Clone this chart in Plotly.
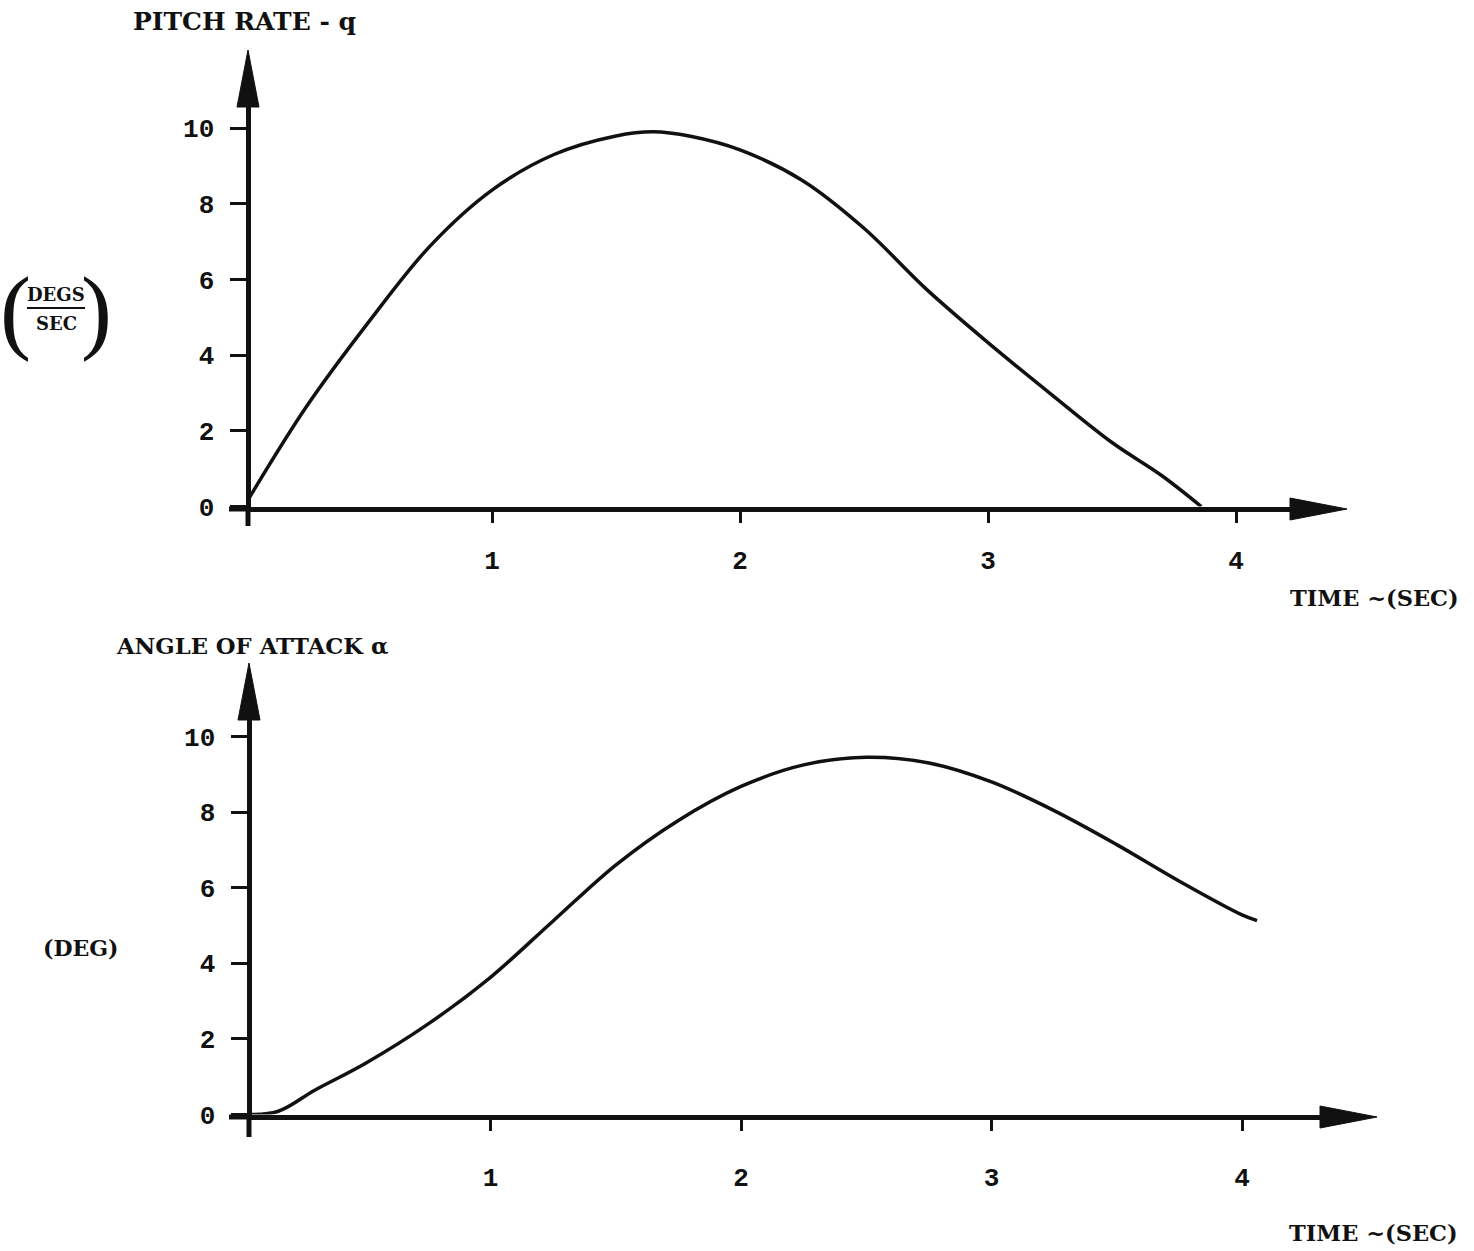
import plotly.graph_objects as go

# ---------------- data ----------------
q_time = [0, 0.25, 0.5, 0.75, 1.0, 1.25, 1.5, 1.65, 1.8, 2.0, 2.25, 2.5,
          2.75, 3.0, 3.25, 3.5, 3.7, 3.86]
q_rate = [0, 2.62, 4.85, 6.88, 8.36, 9.30, 9.79, 9.90, 9.78, 9.42, 8.62, 7.35,
          5.75, 4.33, 2.99, 1.69, 0.82, 0]

a_time = [0, 0.15, 0.3, 0.5, 0.75, 1.0, 1.25, 1.5, 1.75, 2.0, 2.25, 2.5,
          2.75, 3.0, 3.25, 3.5, 3.75, 4.0, 4.06]
a_alpha = [0, 0.08, 0.65, 1.35, 2.39, 3.63, 5.12, 6.60, 7.78, 8.68, 9.25, 9.45,
           9.30, 8.80, 8.04, 7.14, 6.17, 5.28, 5.13]

x_ticks = [1, 2, 3, 4]
y_ticks = [0, 2, 4, 6, 8, 10]

top_title = "PITCH RATE - q"
top_units = ("DEGS", "SEC")
bot_title = "ANGLE OF ATTACK \u03b1"
bot_units = "(DEG)"
x_title = "TIME ~(SEC)"

# ---------------- geometry (window pixels) ----------------
W, H = 1474, 1251
INK = "#111111"
LW = 5  # axis line width


def fx(p):
    return p / W


def fy(p):
    return 1 - p / H


# panel geometry: pixel of t=0, px per second, px per unit value,
# pixel of the drawn y axis line, pixel of the drawn x axis line, right end
TOP = dict(x0=244, xs=248.0, ys=37.85, axx=248, axy=509, xend=1300)
BOT = dict(x0=240, xs=250.5, ys=37.8, axx=249, axy=1117, xend=1325)
Y_MAX = 11.5

TICK = dict(family="Liberation Mono", size=26, color=INK, weight="bold")


def axes_cfg(g, anchor_x, anchor_y, x_standoff):
    dl = g["axx"] + LW / 2          # plot-area left edge (line is drawn just outside)
    db = g["axy"] - LW / 2          # plot-area bottom edge = value 0
    x_min = (dl - g["x0"]) / g["xs"]
    x_max = (g["xend"] - g["x0"]) / g["xs"]
    top_px = db - Y_MAX * g["ys"]
    common = dict(ticks="outside", tickwidth=3, tickcolor=INK, showline=True,
                  linewidth=LW, linecolor=INK, showgrid=False, zeroline=False,
                  tickfont=TICK, fixedrange=True, automargin=False)
    xa = dict(domain=[fx(dl), fx(g["xend"])], range=[x_min, x_max], anchor=anchor_y,
              tickvals=x_ticks, ticklen=11, ticklabelstandoff=x_standoff, **common)
    ya = dict(domain=[fy(db), fy(top_px)], range=[0, Y_MAX], anchor=anchor_x,
              tickvals=y_ticks, ticklen=16, ticklabelstandoff=10, **common)
    return xa, ya


fig = go.Figure()
fig.add_trace(go.Scatter(x=q_time, y=q_rate, mode="lines", xaxis="x", yaxis="y",
                         line=dict(color=INK, width=3.5, shape="spline", smoothing=1.0),
                         cliponaxis=False, showlegend=False, hoverinfo="skip"))
fig.add_trace(go.Scatter(x=a_time, y=a_alpha, mode="lines", xaxis="x2", yaxis="y2",
                         line=dict(color=INK, width=3.5, shape="spline", smoothing=1.0),
                         cliponaxis=False, showlegend=False, hoverinfo="skip"))

xa1, ya1 = axes_cfg(TOP, "x", "y", 15)
xa2, ya2 = axes_cfg(BOT, "x2", "y2", 24)


def tri(pts):
    path = "M " + " L ".join(f"{fx(a)},{fy(b)}" for a, b in pts) + " Z"
    return dict(type="path", xref="paper", yref="paper", path=path,
                fillcolor=INK, line=dict(color=INK, width=1))


def seg(xa, ya, xb, yb, w):
    return dict(type="line", xref="paper", yref="paper", x0=fx(xa), y0=fy(ya),
                x1=fx(xb), y1=fy(yb), line=dict(color=INK, width=w))


shapes = []
# top panel arrows & axis extensions
shapes += [tri([(248, 50), (237, 107), (259, 107)]),
           tri([(1347, 509), (1290, 498), (1290, 520)]),
           seg(1298, 509, 1292, 509, LW),
           seg(229, 509, 248, 509, LW),
           seg(248, 509, 248, 526, LW)]
# bottom panel arrows & axis extensions
shapes += [tri([(249, 663), (238, 720), (260, 720)]),
           tri([(1377, 1117), (1320, 1106), (1320, 1128)]),
           seg(1323, 1117, 1322, 1117, LW),
           seg(229, 1117, 249, 1117, LW),
           seg(249, 1117, 249, 1137, LW)]
# fraction bar of DEGS / SEC
shapes.append(seg(27, 308, 85, 308, 2))


def txt(text, xp, yp, size, family="DejaVu Serif", weight="bold", width=None):
    a = dict(text=text, x=fx(xp), y=fy(yp), xref="paper", yref="paper",
             showarrow=False, xanchor="center", yanchor="middle",
             font=dict(family=family, size=size, color=INK, weight=weight))
    if width is not None:
        a.update(width=width, borderpad=0)
    return a


annotations = [
    txt(top_title, 244, 22, 25),
    txt(bot_title, 252, 646, 22.7),
    txt(x_title, 1374, 598, 22.5),
    txt(x_title, 1373, 1233, 22.5),
    txt(bot_units, 80, 948, 22),
    txt(top_units[0], 56, 294, 18),
    txt(top_units[1], 56, 324, 18),
    txt("(", 16, 309, 96, "Liberation Serif", "normal", width=24),
    txt(")", 96, 309, 96, "Liberation Serif", "normal", width=24),
]

fig.update_layout(
    width=W, height=H, autosize=False,
    margin=dict(l=0, r=0, t=0, b=0, pad=0, autoexpand=False),
    paper_bgcolor="white", plot_bgcolor="white",
    xaxis=xa1, yaxis=ya1, xaxis2=xa2, yaxis2=ya2,
    shapes=shapes, annotations=annotations, showlegend=False,
)

fig.write_html(
    "out.html",
    config={"displayModeBar": False},
    post_script=("var s=document.body.style;s.margin='0';s.overflow='hidden';"
                 "document.documentElement.style.overflow='hidden';"),
)
